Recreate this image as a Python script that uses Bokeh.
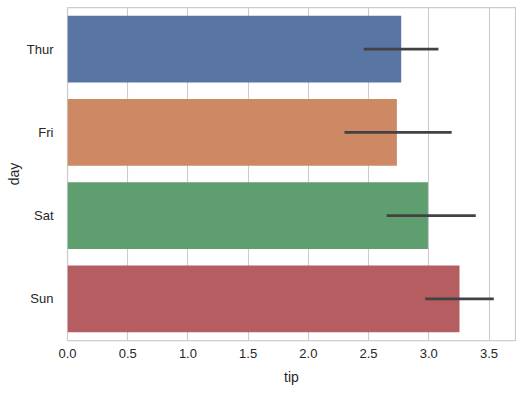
from bokeh.plotting import figure
from bokeh.models import ColumnDataSource, FactorRange, Range1d, FixedTicker, NumeralTickFormatter
from bokeh.embed import file_html
from bokeh.resources import INLINE

days = ["Thur", "Fri", "Sat", "Sun"]
mean_tip = [2.771, 2.735, 2.993, 3.255]
ci_low = [2.46, 2.30, 2.65, 2.97]
ci_high = [3.08, 3.19, 3.39, 3.54]
colors = ["#5975a4", "#cc8963", "#5f9e6e", "#b55d60"]
x_ticks = [0.0, 0.5, 1.0, 1.5, 2.0, 2.5, 3.0, 3.5]

src = ColumnDataSource(dict(day=days, tip=mean_tip, lo=ci_low, hi=ci_high, color=colors))

p = figure(width=516, height=387, output_backend="svg", toolbar_location=None,
           y_range=FactorRange(factors=list(reversed(days))), x_range=Range1d(0, 3.72),
           min_border_left=67, min_border_right=1, min_border_top=7, min_border_bottom=47)

p.hbar(y="day", left=0, right="tip", height=0.8, fill_color="color", line_color=None, source=src)
p.segment(x0="lo", x1="hi", y0="day", y1="day", line_color="#424242", line_width=2.7, source=src)

FONT = "Liberation Sans"
p.outline_line_color = "#cccccc"
p.outline_line_width = 1.25
p.background_fill_color = "white"
p.border_fill_color = "white"

p.xaxis.ticker = FixedTicker(ticks=x_ticks)
p.xaxis.formatter = NumeralTickFormatter(format="0.0")
p.xgrid.ticker = FixedTicker(ticks=x_ticks)
p.xgrid.grid_line_color = "#cccccc"
p.xgrid.grid_line_width = 1.1
p.ygrid.grid_line_color = None

for ax in (p.xaxis, p.yaxis):
    ax.axis_line_color = None
    ax.major_tick_line_color = None
    ax.minor_tick_line_color = None
    ax.major_tick_out = 0
    ax.major_tick_in = 0
    ax.major_label_text_font = FONT
    ax.major_label_text_font_size = "13px"
    ax.major_label_text_color = "#262626"
    ax.axis_label_text_font = FONT
    ax.axis_label_text_font_size = "14px"
    ax.axis_label_text_font_style = "normal"
    ax.axis_label_text_color = "#262626"

p.xaxis.axis_label = "tip"
p.yaxis.axis_label = "day"
p.xaxis.major_label_standoff = 8
p.yaxis.major_label_standoff = 14
p.xaxis.axis_label_standoff = 8
p.yaxis.axis_label_standoff = 2

open("out.html", "w").write(file_html(p, INLINE))
